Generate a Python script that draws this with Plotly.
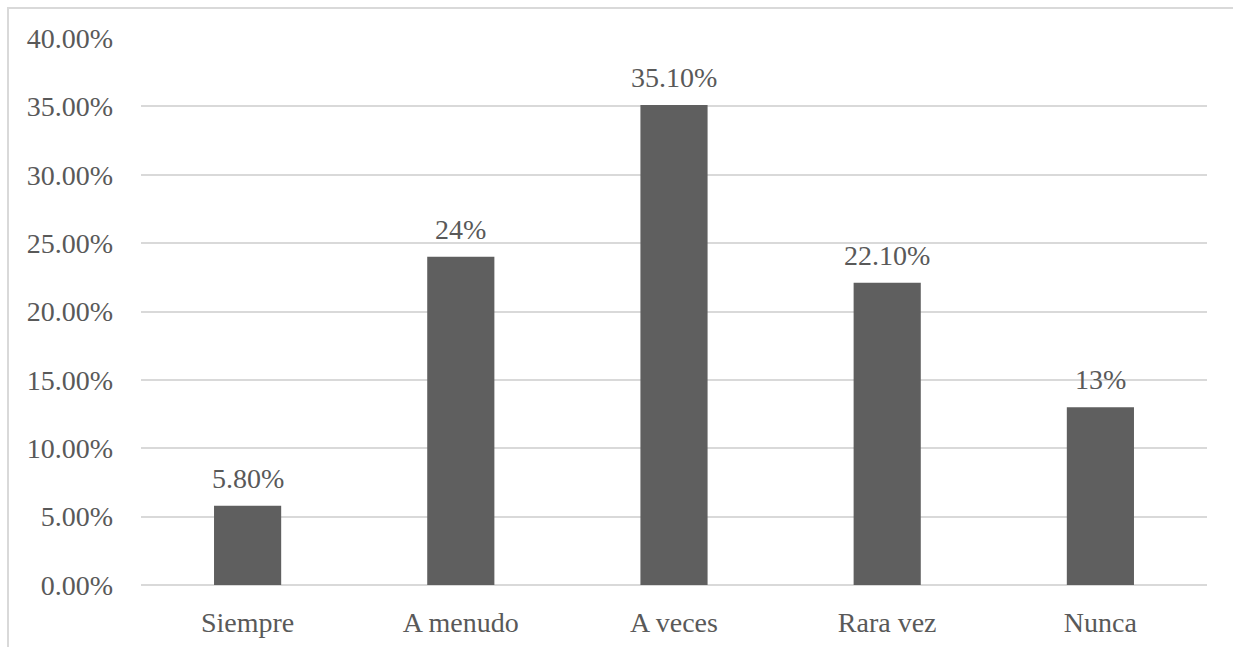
import plotly.graph_objects as go

categories = ["Siempre", "A menudo", "A veces", "Rara vez", "Nunca"]
values = [0.058, 0.24, 0.351, 0.221, 0.13]
value_labels = ["5.80%", "24%", "35.10%", "22.10%", "13%"]

FONT = "Liberation Serif"
TXT = "#595959"
GRID = "#d9d9d9"
FS = 28

fig = go.Figure()
fig.add_trace(go.Bar(
    x=categories, y=values, marker=dict(color="#5f5f5f", line=dict(width=0)),
    width=0.315, hoverinfo="skip"))

for c, v, t in zip(categories, values, value_labels):
    fig.add_annotation(x=c, y=v, text=t, showarrow=False, yanchor="bottom",
                       yshift=10, font=dict(family=FONT, size=FS, color=TXT))

L, R, T, B = 141, 26, 38, 62
W, H = 1233, 647
pw, ph = W - L - R, H - T - B
fig.add_shape(type="rect", xref="paper", yref="paper",
              x0=(8 - L) / pw, x1=(W + 20 - L) / pw,
              y0=-(H + 20 - T - ph) / ph, y1=(ph + T - 8) / ph,
              line=dict(color=GRID, width=2), fillcolor="rgba(0,0,0,0)", layer="below")

fig.update_layout(
    width=W, height=H, margin=dict(l=L, r=R, t=T, b=B, autoexpand=False),
    paper_bgcolor="white", plot_bgcolor="white", showlegend=False,
    font=dict(family=FONT, size=FS, color=TXT),
    xaxis=dict(showgrid=False, showline=False, ticks="", ticklabelstandoff=18,
               automargin=False, tickfont=dict(family=FONT, size=FS, color=TXT)),
    yaxis=dict(range=[0, 0.4], dtick=0.05, tick0=0, tickformat=".2%",
               showgrid=True, gridcolor=GRID, gridwidth=2, zeroline=True,
               zerolinecolor=GRID, zerolinewidth=2, showline=False, ticks="",
               automargin=False, ticklabelstandoff=27,
               tickfont=dict(family=FONT, size=FS, color=TXT)),
)

fig.write_html("out.html")
